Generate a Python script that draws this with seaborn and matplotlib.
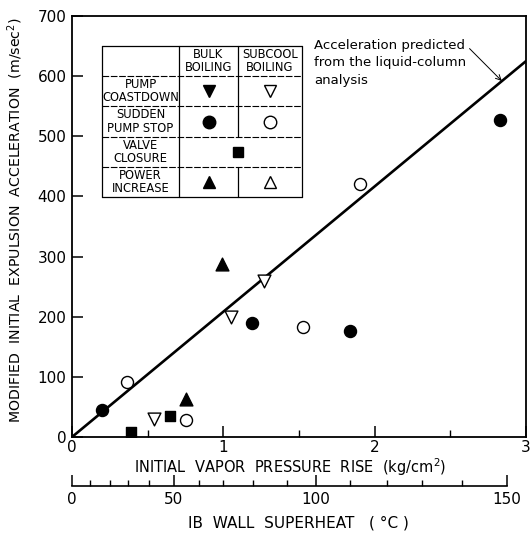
import matplotlib
matplotlib.use("Agg")
import matplotlib.pyplot as plt
import seaborn as sns
import pandas as pd

# ---------------- data ----------------
coast_sub_x = [0.54, 1.05, 1.27]
coast_sub_y = [30, 200, 260]
stop_bulk_x = [0.20, 1.19, 1.84, 2.83]
stop_bulk_y = [45, 189, 177, 527]
stop_sub_x = [0.365, 0.756, 1.527, 1.90]
stop_sub_y = [92, 28, 183, 420]
valve_x = [0.39, 0.646]
valve_y = [8, 35]
power_bulk_x = [0.756, 0.99]
power_bulk_y = [63, 287]
pred_x = [0, 3]
pred_y = [0, 625]

x_major = [0, 1, 2, 3]
x_minor = [0.5, 1.5, 2.5]
y_major = [0, 100, 200, 300, 400, 500, 600, 700]
superheat_vals = [0, 10, 20, 30, 40, 50, 60, 70, 80, 90, 100, 110, 120, 130, 140, 150]
superheat_at_pressure = [0, 0.119, 0.251, 0.370, 0.509, 0.674, 0.839, 0.998, 1.196,
                         1.421, 1.613, 1.837, 2.082, 2.313, 2.578, 2.875]
superheat_labels = [0, 50, 100, 150]

row_labels = ["PUMP\nCOASTDOWN", "SUDDEN\nPUMP STOP", "VALVE\nCLOSURE", "POWER\nINCREASE"]
col_labels = ["BULK\nBOILING", "SUBCOOL\nBOILING"]

# ---------------- style ----------------
sns.set_style("ticks")
plt.rcParams['font.family'] = ['DejaVu Sans']
plt.rcParams['axes.linewidth'] = 1.3
plt.rcParams['text.color'] = 'black'
plt.rcParams['xtick.color'] = 'black'
plt.rcParams['ytick.color'] = 'black'
plt.rcParams['axes.edgecolor'] = 'black'
plt.rcParams['axes.labelcolor'] = 'black'

W, H = 531, 538
fig = plt.figure(figsize=(W / 100, H / 100), dpi=100)
L, R, T, B = 72, 526, 16, 437
ax = fig.add_axes([L / W, 1 - B / H, (R - L) / W, (B - T) / H])

# prediction line
sns.lineplot(x=pred_x, y=pred_y, ax=ax, color="black", lw=1.9, zorder=2)

ms = 75
def pts(xs, ys, marker, filled, size=ms):
    if len(xs) == 0:
        return
    sns.scatterplot(x=xs, y=ys, ax=ax, marker=marker, s=size,
                    facecolor="black" if filled else "white",
                    edgecolor="black", linewidth=1.0, zorder=3)

pts(coast_sub_x, coast_sub_y, "v", False, 85)
pts(stop_bulk_x, stop_bulk_y, "o", True)
pts(stop_sub_x, stop_sub_y, "o", False)
pts(valve_x, valve_y, "s", True, 60)
pts(power_bulk_x, power_bulk_y, "^", True, 85)

ax.set_xlim(0, 3)
ax.set_ylim(0, 700)
ax.set_xticks(x_major)
ax.set_xticks(x_minor, minor=True)
ax.set_xticklabels([str(v) for v in x_major], fontsize=11)
ax.set_yticks(y_major)
ax.set_yticklabels([str(v) for v in y_major], fontsize=11)
ax.tick_params(axis="both", which="major", direction="in", length=8, width=1.1, pad=4)
ax.tick_params(axis="x", which="major", pad=2)
ax.tick_params(axis="x", which="minor", direction="in", length=5, width=1.0)
ax.set_xlabel("")
ax.set_ylabel("")
for s in ax.spines.values():
    s.set_visible(True)
    s.set_linewidth(1.3)
    s.set_color("black")

# annotation
ax.annotate("Acceleration predicted\nfrom the liquid-column\nanalysis",
            xy=(2.84, 592), xytext=(1.60, 662), textcoords="data",
            fontsize=9.5, ha="left", va="top", linespacing=1.45, color="black",
            arrowprops=dict(arrowstyle="->", lw=0.7, color="black",
                            shrinkA=0, shrinkB=0,
                            relpos=(0.98, 0.93)))

# ---------------- legend table ----------------
def fx(px):
    return px / W
def fy(py):
    return 1 - py / H

tl, tc1, tc2, tr = 102, 179, 238, 302
rows = [46, 76, 106, 137, 167, 197]
lw_t = 0.9
for (x0, y0, x1, y1) in [(tl, rows[0], tr, rows[0]), (tl, rows[-1], tr, rows[-1]),
                         (tl, rows[0], tl, rows[-1]), (tr, rows[0], tr, rows[-1])]:
    fig.add_artist(plt.Line2D([fx(x0), fx(x1)], [fy(y0), fy(y1)], color="black", lw=lw_t))
for yy in rows[1:-1]:
    fig.add_artist(plt.Line2D([fx(tl), fx(tr)], [fy(yy), fy(yy)], color="black",
                              lw=0.8, ls=(0, (6, 1.5))))
fig.add_artist(plt.Line2D([fx(tc1), fx(tc1)], [fy(rows[0]), fy(rows[-1])], color="black", lw=lw_t))
fig.add_artist(plt.Line2D([fx(tc2), fx(tc2)], [fy(rows[0]), fy(rows[3])], color="black", lw=lw_t))
fig.add_artist(plt.Line2D([fx(tc2), fx(tc2)], [fy(rows[4]), fy(rows[5])], color="black", lw=lw_t))

tfs = 8.3
for i, lab in enumerate(row_labels):
    yc = (rows[i + 1] + rows[i + 2]) / 2
    fig.text(fx((tl + tc1) / 2), fy(yc), lab, ha="center", va="center",
             fontsize=tfs, linespacing=1.05)
for j, lab in enumerate(col_labels):
    xc = [(tc1 + tc2) / 2, (tc2 + tr) / 2][j]
    fig.text(fx(xc), fy((rows[0] + rows[1]) / 2), lab, ha="center", va="center",
             fontsize=tfs, linespacing=1.05)

cb = (tc1 + tc2) / 2
cs = (tc2 + tr) / 2
rc = [(rows[k] + rows[k + 1]) / 2 for k in range(1, 5)]
legend_syms = [(cb, rc[0], "v", True), (cs, rc[0], "v", False),
               (cb, rc[1], "o", True), (cs, rc[1], "o", False),
               (tc2, rc[2], "s", True),
               (cb, rc[3], "^", True), (cs, rc[3], "^", False)]
for (xx, yy, m, f) in legend_syms:
    fig.add_artist(plt.Line2D([fx(xx)], [fy(yy)], marker=m, ms=9 if m != "s" else 7.5,
                              mfc="black" if f else "white", mec="black", mew=1.0, ls="none"))

# ---------------- axis labels ----------------
fig.text(fx(290), fy(467), "INITIAL  VAPOR  PRESSURE  RISE  (kg/cm$^2$)", ha="center",
         va="center", fontsize=10.5)
fig.text(fx(15), fy(220), "MODIFIED  INITIAL  EXPULSION  ACCELERATION  (m/sec$^2$)",
         ha="center", va="center", rotation=90, fontsize=10.2)

# ---------------- secondary superheat axis ----------------
ax2 = fig.add_axes([L / W, 1 - 486 / H, (R - L) / W, 0.02])
ax2.set_xlim(0, 3)
ax2.set_ylim(0, 1)
ax2.patch.set_visible(False)
for k in ["top", "left", "right"]:
    ax2.spines[k].set_visible(False)
ax2.spines["bottom"].set_linewidth(1.2)
ax2.spines["bottom"].set_color("black")
ax2.spines["bottom"].set_bounds(0, superheat_at_pressure[-1])
ax2.set_yticks([])
maj_pos = [p for v, p in zip(superheat_vals, superheat_at_pressure) if v in superheat_labels]
min_pos = [p for v, p in zip(superheat_vals, superheat_at_pressure) if v not in superheat_labels]
ax2.set_xticks(maj_pos)
ax2.set_xticklabels([str(v) for v in superheat_labels], fontsize=11)
ax2.set_xticks(min_pos, minor=True)
ax2.tick_params(axis="x", which="major", direction="in", length=8, width=1.1, pad=4)
ax2.tick_params(axis="x", which="minor", direction="in", length=4, width=1.0)
fig.text(fx(298), fy(523), "IB  WALL  SUPERHEAT   ( °C )", ha="center", va="center",
         fontsize=11)

fig.savefig("out.png", dpi=100)
